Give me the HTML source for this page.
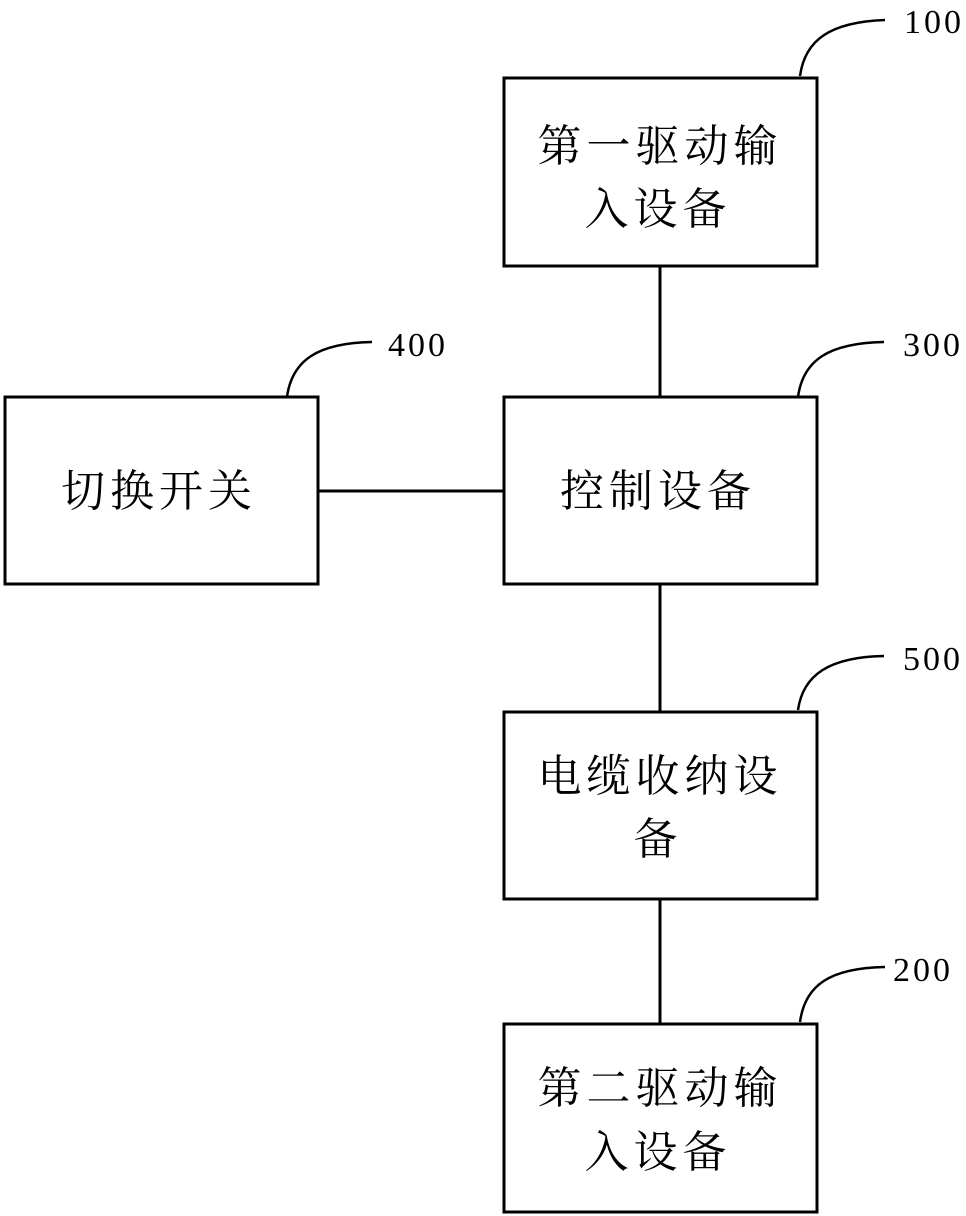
<!DOCTYPE html>
<html><head><meta charset="utf-8"><style>
html,body{margin:0;padding:0;background:#fff;}
svg{display:block}
.t{font-family:"Liberation Serif","Noto Serif CJK SC",serif;font-size:44px;fill:#000;text-anchor:middle;letter-spacing:5px}
.n{font-family:"Liberation Serif",serif;font-size:34px;fill:#000;letter-spacing:3px}
</style></head><body>
<svg width="966" height="1216" viewBox="0 0 966 1216" xmlns="http://www.w3.org/2000/svg">
<g fill="none" stroke="#000" stroke-width="3">
<rect x="504" y="78" width="313" height="188"/>
<rect x="504" y="397" width="313" height="187"/>
<rect x="5" y="397" width="313" height="187"/>
<rect x="504" y="712" width="313" height="187"/>
<rect x="504" y="1024" width="313" height="188"/>
<line x1="660" y1="266" x2="660" y2="397"/>
<line x1="660" y1="584" x2="660" y2="712"/>
<line x1="660" y1="899" x2="660" y2="1024"/>
<line x1="318" y1="491" x2="504" y2="491"/>
<path d="M800 76 C805 40 830 22 885 20" stroke-width="2.5"/>
<path d="M287 397 C292 360 318 343 372 342" stroke-width="2.5"/>
<path d="M798 397 C803 360 829 343 884 342" stroke-width="2.5"/>
<path d="M798 710 C803 675 829 657 884 656" stroke-width="2.5"/>
<path d="M800 1022 C805 985 830 968 885 967" stroke-width="2.5"/>
</g>
<text class="n" x="904" y="33">100</text>
<text class="n" x="388" y="356">400</text>
<text class="n" x="903" y="356">300</text>
<text class="n" x="903" y="670">500</text>
<text class="n" x="893" y="981">200</text>
<text class="t" x="660" y="161">第一驱动输</text>
<text class="t" x="658" y="224">入设备</text>
<text class="t" x="658" y="506">控制设备</text>
<text class="t" x="159" y="506">切换开关</text>
<text class="t" x="660" y="791">电缆收纳设</text>
<text class="t" x="658" y="854">备</text>
<text class="t" x="660" y="1103">第二驱动输</text>
<text class="t" x="658" y="1167">入设备</text>
</svg>
</body></html>
